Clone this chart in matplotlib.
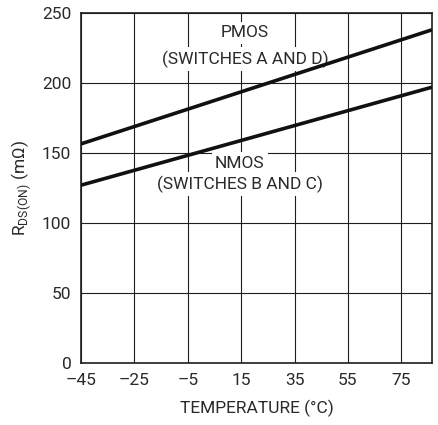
import matplotlib
matplotlib.use("Agg")
import matplotlib.pyplot as plt

plt.rcParams['font.family'] = ['Roboto', 'DejaVu Sans']

# On-resistance vs temperature, straight-line characteristics
temperature = [-45, 86.5]
pmos_rds = [156.5, 238]
nmos_rds = [127, 197]

x_ticks = [-45, -25, -5, 15, 35, 55, 75]
y_ticks = [0, 50, 100, 150, 200, 250]

ink = '#2a2a2a'
fs = 12.5

fig = plt.figure(figsize=(4.39, 4.25), dpi=100)
ax = fig.add_axes([0.1845, 0.146, 0.7995, 0.8234])

ax.set_xlim(-45, 86.5)
ax.set_ylim(0, 250)
ax.set_xticks(x_ticks)
ax.set_yticks(y_ticks)
ax.set_xticklabels([f"{t:d}".replace("-", "\u2013") for t in x_ticks])
ax.set_axisbelow(True)
ax.grid(True, color='#1e1e1e', linewidth=0.8)
ax.tick_params(length=0, labelsize=fs, colors=ink)
ax.tick_params(axis='x', pad=7.5)
ax.tick_params(axis='y', pad=7)
for s in ax.spines.values():
    s.set_linewidth(1.2)
    s.set_color('#1e1e1e')

ax.plot(temperature, pmos_rds, color='#111111', linewidth=2.6, solid_capstyle='butt', zorder=3)
ax.plot(temperature, nmos_rds, color='#111111', linewidth=2.6, solid_capstyle='butt', zorder=3)

# Curve labels; each line gets its own white patch that hides the grid
box = dict(facecolor='white', edgecolor='none', pad=2.5)
labels = [
    ("PMOS", 16.2, 232.8),
    ("(SWITCHES A AND D)", 16.7, 213.8),
    ("NMOS", 14.5, 139.6),
    ("(SWITCHES B AND C)", 14.5, 124.5),
]
for txt, x, y in labels:
    ax.text(x, y, txt, ha='center', va='baseline', fontsize=fs, color=ink,
            bbox=box, zorder=2)

ax.set_xlabel("TEMPERATURE (\u00b0C)", fontsize=fs, color=ink, labelpad=8)
ax.set_ylabel("R$_{\\mathregular{DS(ON)}}$ (m\u03a9)", fontsize=fs, color=ink, labelpad=6)

fig.savefig("out.png", dpi=100)
